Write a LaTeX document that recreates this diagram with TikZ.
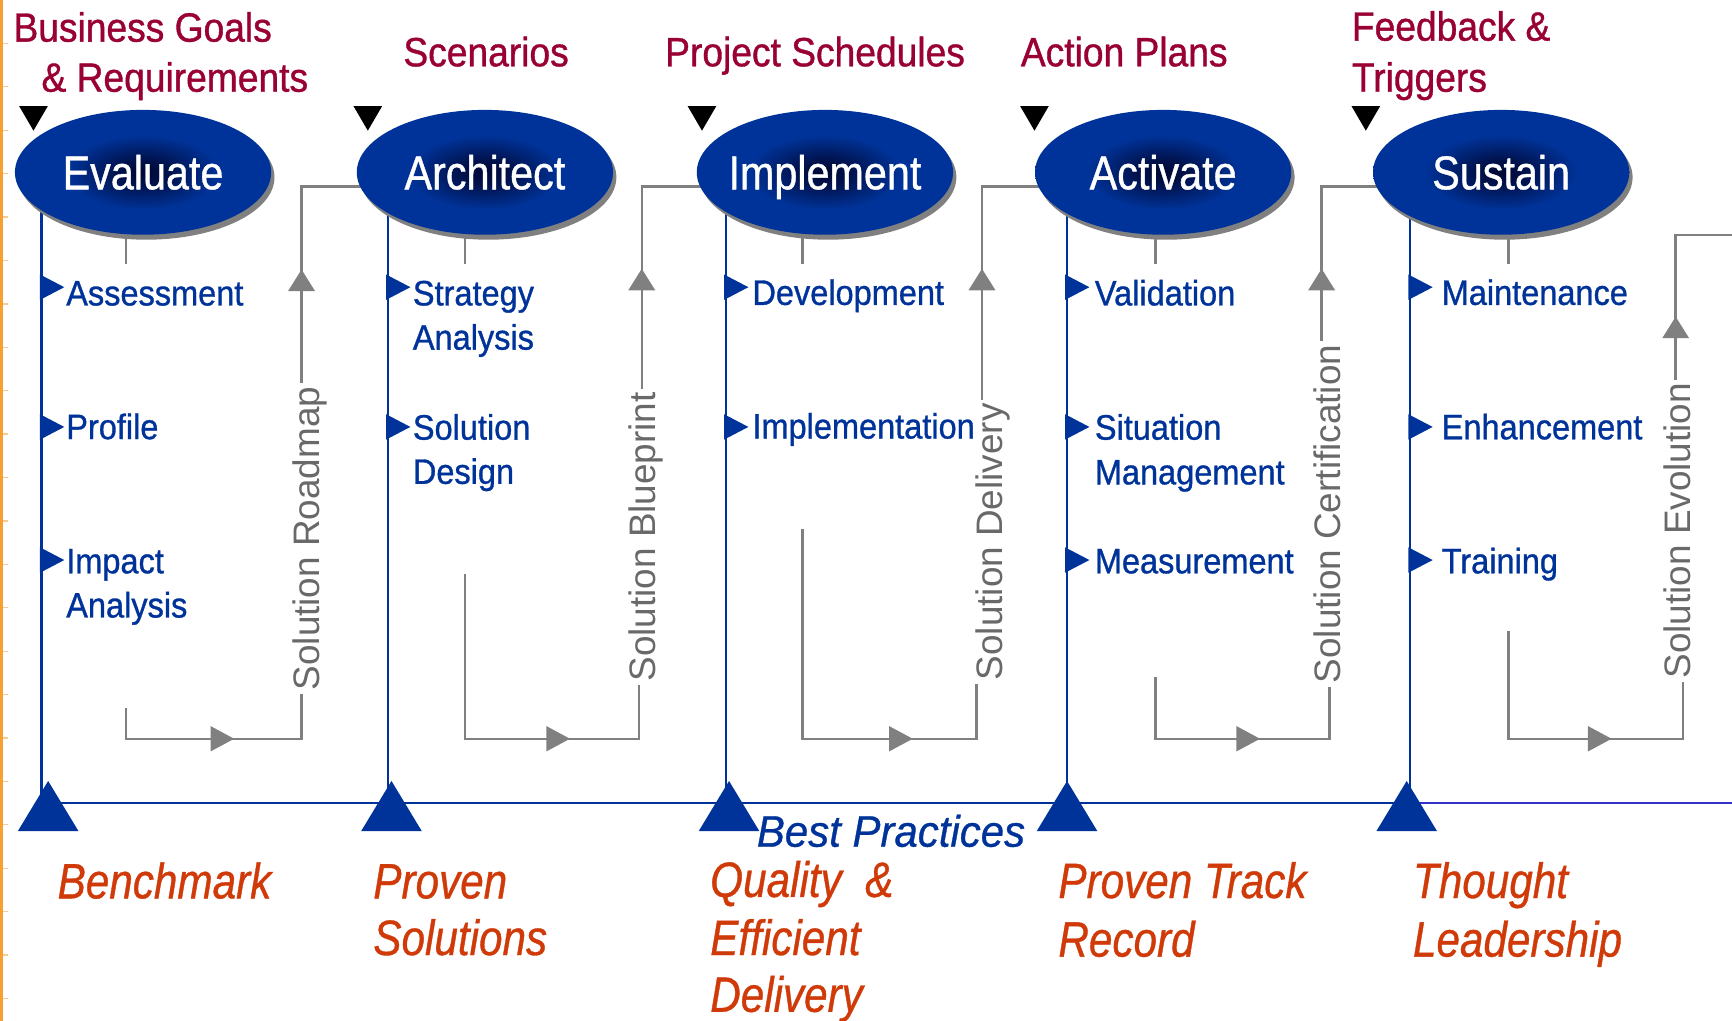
\documentclass[tikz,border=0pt]{standalone}
\usepackage{fontspec}
\setmainfont{Liberation Sans}
\newfontfamily\fhead[FakeStretch=0.91,FakeBold=0.9]{Liberation Sans}
\newfontfamily\fell[FakeStretch=0.87,FakeBold=0.8]{Liberation Sans}
\newfontfamily\fitem[FakeStretch=0.92,FakeBold=0.9]{Liberation Sans}
\newfontfamily\forg[FakeStretch=0.85,FakeBold=0.7]{Liberation Sans}
\newfontfamily\fbest[FakeStretch=0.95,FakeBold=0.7]{Liberation Sans}
\usetikzlibrary{shapes.geometric,backgrounds}
\definecolor{maroon}{RGB}{153,0,51}
\definecolor{navy}{RGB}{0,51,153}
\definecolor{orng}{RGB}{208,58,8}
\definecolor{gline}{RGB}{128,128,128}
\definecolor{gtext}{RGB}{105,105,105}
\definecolor{edgeor}{RGB}{247,160,50}
\definecolor{bluer}{RGB}{51,51,204}
\pgfdeclareradialshading{ellshade}{\pgfpoint{0bp}{0bp}}{rgb(0bp)=(0,0.03,0.2); rgb(5bp)=(0,0.07,0.3); rgb(15bp)=(0,0.2,0.6); rgb(25bp)=(0,0.2,0.6); rgb(50bp)=(0,0.2,0.6)}
\newcommand{\elab}[1]{\makebox[0pt]{#1}}
\begin{document}
\begin{tikzpicture}[x=1pt,y=-1pt,
  ell/.style={ellipse, minimum width=232pt, minimum height=113pt, inner sep=0pt,
    shade, shading=ellshade, text=white, font=\fell\fontsize{43}{43}\selectfont,
    text height=30.8pt, text depth=0pt,
    preaction={fill=gline, transform canvas={xshift=3pt,yshift=-4.5pt}}},
  head/.style={anchor=base west, inner sep=0pt, text=maroon, font=\fhead\fontsize{37}{37}\selectfont},
  itm/.style={anchor=base west, inner sep=0pt, text=navy, font=\fitem\fontsize{32}{32}\selectfont},
  org/.style={anchor=base west, inner sep=0pt, text=orng, font=\forg\itshape\fontsize{45}{45}\selectfont},
  sol/.style={rotate=90, anchor=base, inner sep=3pt, text=gtext, font=\fontsize{33.4}{33.4}\selectfont},
  gl/.style={draw=gline, line width=2.2pt},
  bl/.style={draw=navy, line width=2.2pt},
  rarr/.pic={\fill[gline] (0,0) -- (-21.4,-11.5) -- (-21.4,11.5) -- cycle;},
  uarr/.pic={\fill[gline] (0,0) -- (-12.2,19.5) -- (12.2,19.5) -- cycle;},
  bul/.pic={\fill[navy] (-1.5,-11.5) -- (20.5,0) -- (-1.5,11.5) -- cycle;},
  dtri/.pic={\fill[black] (0,0) -- (-13,-22.3) -- (13,-22.3) -- cycle;},
  utri/.pic={\fill[navy] (0,0) -- (-27.5,45.5) -- (27.5,45.5) -- cycle;}
]
\useasboundingbox (0,0) rectangle (1568,924);

% left orange edge
\draw[edgeor, line width=3pt] (1.5,0) -- (1.5,924);
\foreach \k in {1,...,23} \draw[edgeor!55, line width=1.2pt] (3,\k*39.3) -- (7,\k*39.3);

% headings
\node[head] (h1a) at (12,37.7) {Business Goals};
\node[head] (h1b) at (37.4,83) {\& Requirements};
\node[head] (h2) at (365,60) {Scenarios};
\node[head] (h3) at (602,60) {Project Schedules};
\node[head] (h4) at (924,60) {Action Plans};
\node[head] (h5a) at (1223.7,36.8) {Feedback \&};
\node[head] (h5b) at (1223.7,83) {Triggers};

% black markers
\pic at (30.3,118.3) {dtri};
\pic at (333,118.3) {dtri};
\pic at (635.5,118.3) {dtri};
\pic at (936.5,118.3) {dtri};
\pic at (1236.5,118.3) {dtri};

% phase ellipses
\node[ell] (ev) at (129.5,156) {\elab{Evaluate}};
\node[ell] (ar) at (439,156) {\elab{Architect}};
\node[ell] (im) at (746.8,156) {\elab{Implement}};
\node[ell] (ac) at (1053,156) {\elab{Activate}};
\node[ell] (su) at (1359,156) {\elab{Sustain}};

% rotated deliverable labels
\node[sol] (evL) at (289,487.5) {Solution Roadmap};
\node[sol] (arL) at (593,486) {Solution Blueprint};
\node[sol] (imL) at (907.7,490.5) {Solution Delivery};
\node[sol] (acL) at (1213.7,465.3) {Solution Certification};
\node[sol] (suL) at (1530,480.5) {Solution Evolution};

% coordinates
\coordinate (evS) at (114.3,239);  \coordinate (evBL) at (114.3,641);
\coordinate (evBR) at (273,668.8); \coordinate (evTR) at (273,169);
\coordinate (arS) at (421,239);    \coordinate (arBL) at (421,520);
\coordinate (arBR) at (578.5,668.8); \coordinate (arTR) at (581,169);
\coordinate (imS) at (726.4,239);  \coordinate (imBL) at (726.4,479);
\coordinate (imBR) at (884,668.8); \coordinate (imTR) at (889,169);
\coordinate (acS) at (1046,239);   \coordinate (acBL) at (1046,612.6);
\coordinate (acBR) at (1203.5,668.8); \coordinate (acTR) at (1196.5,169);
\coordinate (suS) at (1365.5,239); \coordinate (suBL) at (1365.5,571);
\coordinate (suBR) at (1523.4,668.8); \coordinate (suTR) at (1517,212.7);
\coordinate (edgeR) at (1568,212.7);
\coordinate (evB) at (37.7,726.7);
\coordinate (arB) at (351,726.7);
\coordinate (imB) at (657,726.7);
\coordinate (acB) at (965.7,726.7);
\coordinate (suB) at (1276.5,726.7);
\coordinate (evT) at (43.6,726.7);
\coordinate (suT) at (1273.5,726.7);
\coordinate (lineEnd) at (1568,726.7);

\begin{pgfonlayer}{background}
  % blue phase lines
  \draw[bl] (ev.center -| evB) -- (evB);
  \draw[bl] (ar.center -| arB) -- (arB);
  \draw[bl] (im.center -| imB) -- (imB);
  \draw[bl] (ac.center -| acB) -- (acB);
  \draw[bl] (su.center -| suB) -- (suB);
  % stubs
  \draw[gl] (ev.center -| evS) -- (evS);
  \draw[gl] (ar.center -| arS) -- (arS);
  \draw[gl] (im.center -| imS) -- (imS);
  \draw[gl] (ac.center -| acS) -- (acS);
  \draw[gl] (su.center -| suS) -- (suS);
  % feedback loops
  \draw[gl] (evBL) |- (evBR) -- (evBR |- evL.west);
  \draw[gl] (evL.east -| evTR) -- (evTR) -- (ar.center |- evTR);
  \draw[gl] (arBL) |- (arBR) -- (arBR |- arL.west);
  \draw[gl] (arL.east -| arTR) -- (arTR) -- (im.center |- arTR);
  \draw[gl] (imBL) |- (imBR) -- (imBR |- imL.west);
  \draw[gl] (imL.east -| imTR) -- (imTR) -- (ac.center |- imTR);
  \draw[gl] (acBL) |- (acBR) -- (acBR |- acL.west);
  \draw[gl] (acL.east -| acTR) -- (acTR) -- (su.center |- acTR);
  \draw[gl] (suBL) |- (suBR) -- (suBR |- suL.west);
  \draw[gl] (suL.east -| suTR) -- (suTR) -- (edgeR);
  % baseline
  \draw[bl] (evT) -- (suT);
  \draw[draw=bluer, line width=2.2pt] (suT) -- (lineEnd);
\end{pgfonlayer}

% arrowheads
\pic at (212,668.8) {rarr};
\pic at (516,668.8) {rarr};
\pic at (826.3,668.8) {rarr};
\pic at (1140.7,668.8) {rarr};
\pic at (1459,668.8) {rarr};
\pic at (273,244) {uarr};
\pic at (581,243.3) {uarr};
\pic at (889,243.3) {uarr};
\pic at (1196.5,243.3) {uarr};
\pic at (1517,286.7) {uarr};

% bullets
\foreach \bx in {37.7,351,657,965.7,1276.5} {
  \pic at (\bx,260) {bul};
  \pic at (\bx,386.5) {bul};
}
\pic at (37.7,507) {bul};
\pic at (965.7,507) {bul};
\pic at (1276.5,507) {bul};

% items
\node[itm] (ev1) at (59.8,276.5) {Assessment};
\node[itm] (ev2) at (59.8,397.5) {Profile};
\node[itm] (ev3a) at (59.8,519) {Impact};
\node[itm] (ev3b) at (59.8,559) {Analysis};
\node[itm] (ar1a) at (373.6,276.5) {Strategy};
\node[itm] (ar1b) at (373.6,316.5) {Analysis};
\node[itm] (ar2a) at (373.6,398) {Solution};
\node[itm] (ar2b) at (373.6,438) {Design};
\node[itm] (im1) at (681,276) {Development};
\node[itm] (im2) at (681,397) {Implementation};
\node[itm] (ac1) at (991,276.5) {Validation};
\node[itm] (ac2a) at (991,398) {Situation};
\node[itm] (ac2b) at (991,438.5) {Management};
\node[itm] (ac3) at (991,519) {Measurement};
\node[itm] (su1) at (1305,276) {Maintenance};
\node[itm] (su2) at (1305,397.7) {Enhancement};
\node[itm] (su3) at (1305,519) {Training};

% blue foundation triangles
\pic at (43.6,707) {utri};
\pic at (354.4,707) {utri};
\pic at (660,707) {utri};
\pic at (966,707) {utri};
\pic at (1273.5,707) {utri};

\node[anchor=base west, inner sep=0pt, text=navy, font=\fbest\itshape\fontsize{40}{40}\selectfont] (bp) at (685,766.5) {Best Practices};

% orange foundations
\node[org] (o1) at (52,813.3) {Benchmark};
\node[org] (o2a) at (337.8,813.3) {Proven};
\node[org] (o2b) at (337.8,864.6) {Solutions};
\node[org] (o3a) at (642.8,812) {Quality\ \ \&};
\node[org] (o3b) at (642.8,864.6) {Efficient};
\node[org] (o3c) at (642.8,916) {Delivery};
\node[org] (o4a) at (958,813) {Proven Track};
\node[org] (o4b) at (958,866) {Record};
\node[org] (o5a) at (1279,813) {Thought};
\node[org] (o5b) at (1279,866) {Leadership};
\end{tikzpicture}
\end{document}
